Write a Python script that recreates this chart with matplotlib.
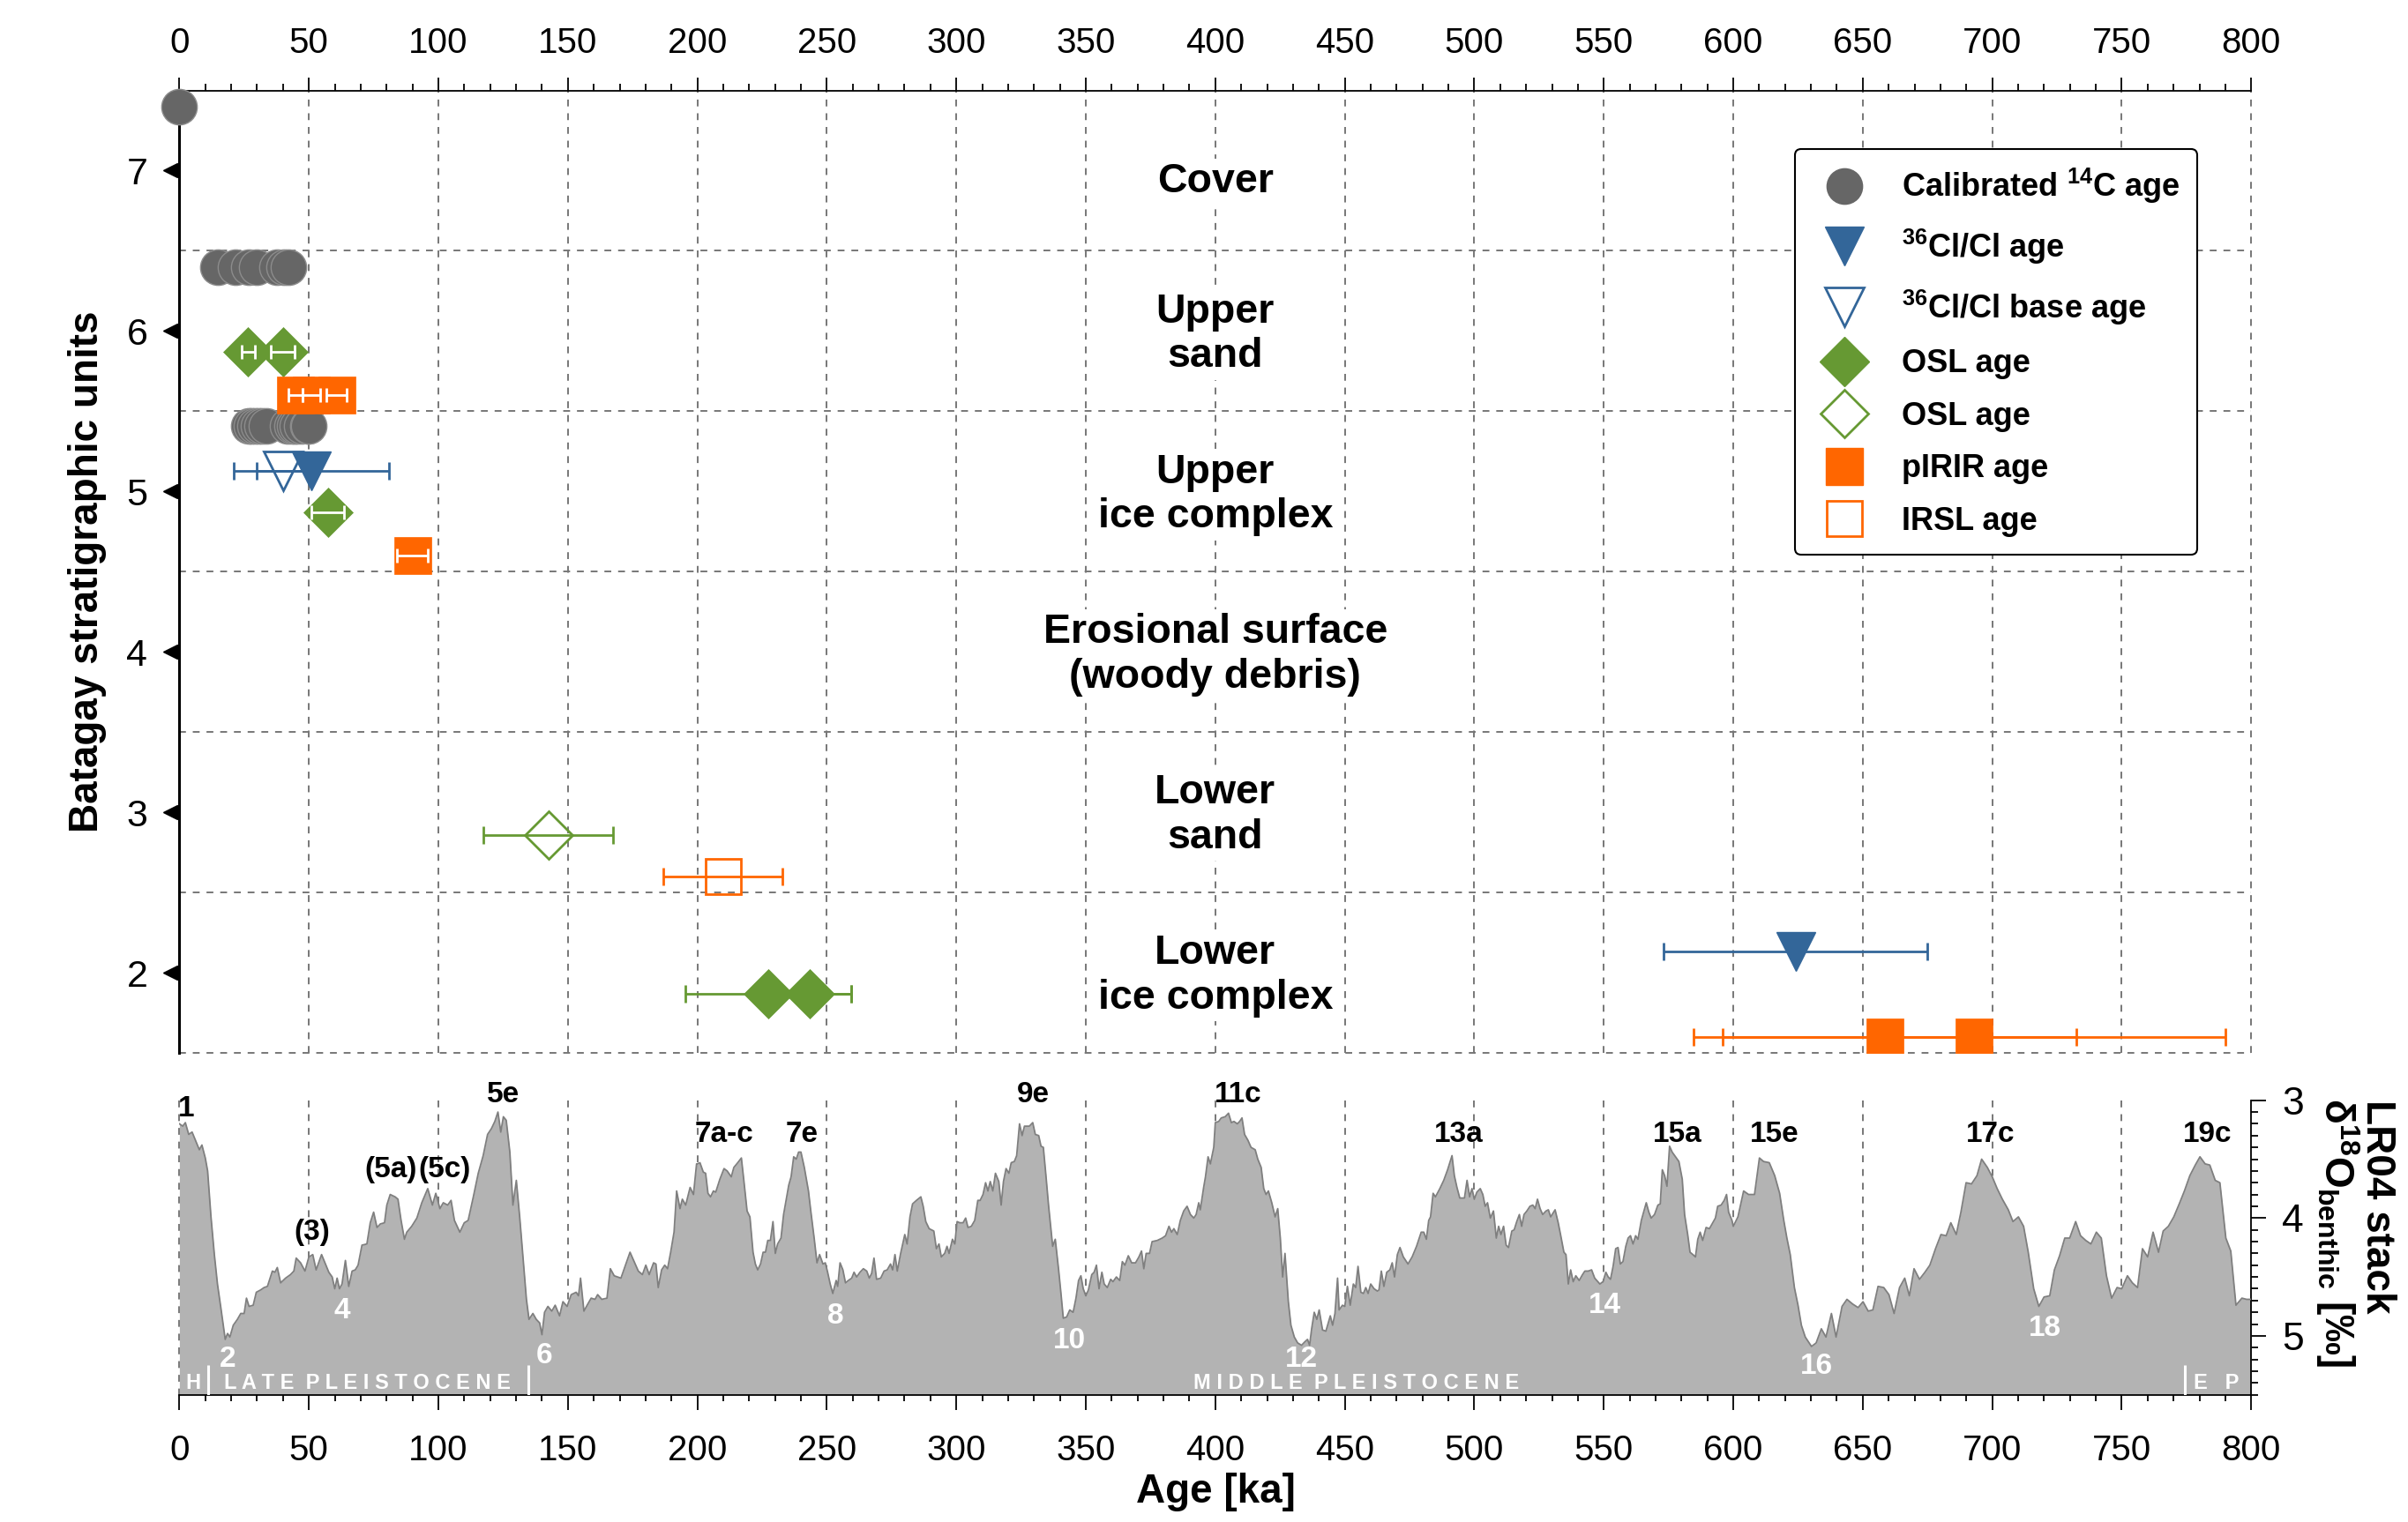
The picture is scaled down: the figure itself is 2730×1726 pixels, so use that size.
import matplotlib
matplotlib.use("Agg")
import matplotlib.pyplot as plt
from matplotlib.lines import Line2D
from matplotlib.ticker import MultipleLocator

plt.rcParams["font.family"] = ["Liberation Sans", "DejaVu Sans"]
plt.rcParams["mathtext.default"] = "regular"

GREY = "#666666"
BLUE = "#336699"
GREEN = "#669933"
ORANGE = "#ff6600"
GRID = "#777777"

# ---------------- dating results (ka) and stratigraphic position ----------------
c14_age = [0.0,
           14.9, 21.7, 26.8, 29.9, 37.6, 40.4, 42.1,
           26.8, 27.9, 29.1, 30.6, 31.9, 33.6, 41.6, 43.3, 44.4, 45.5, 47.2, 49.5, 50.0]
c14_unit = [7.40,
            6.40, 6.40, 6.40, 6.40, 6.40, 6.40, 6.40,
            5.41, 5.41, 5.41, 5.41, 5.41, 5.41, 5.41, 5.41, 5.41, 5.41, 5.41, 5.41, 5.41]

cl_age = [51.0, 624.0]
cl_err = [30.0, 51.0]
cl_unit = [5.13, 2.13]

cl_base_age = [40.0]
cl_base_err = [10.0]
cl_base_unit = [5.13]

osl_age = [26.6, 40.0, 57.3, 227.5, 243.5]
osl_err = [2.5, 4.6, 6.2, 32.0, 16.0]
osl_unit = [5.87, 5.87, 4.87, 1.87, 1.87]
osl_err_inside = [True, True, True, False, False]

osl_open_age = [142.5]
osl_open_err = [25.0]
osl_open_unit = [2.86]

pirir_age = [44.7, 50.9, 60.7, 90.0, 658.6, 692.9]
pirir_err = [2.7, 3.5, 4.0, 6.0, 74.0, 97.0]
pirir_unit = [5.60, 5.60, 5.60, 4.60, 1.60, 1.60]
pirir_err_inside = [True, True, True, True, False, False]

irsl_age = [210.0]
irsl_err = [23.0]
irsl_unit = [2.60]

unit_names = ["Cover", "Upper\nsand", "Upper\nice complex",
              "Erosional surface\n(woody debris)", "Lower\nsand", "Lower\nice complex"]
unit_label_pos = [6.93, 5.98, 4.98, 3.98, 2.98, 1.98]
unit_ticks = [2, 3, 4, 5, 6, 7]

# ---------------- LR04 benthic stack ----------------
age_0_200 = [
    0.0, 1.3, 2.3, 3.6, 4.9, 6.2, 7.7, 8.7, 10.0, 10.9,
    12.2, 13.5, 14.7, 16.0, 17.7, 18.6, 19.5, 20.8, 22.4, 23.7,
    25.0, 25.9, 26.9, 28.5, 29.7, 31.4, 32.7, 34.0, 35.9, 36.9,
    37.8, 39.1, 41.0, 42.9, 44.2, 45.1, 46.8, 48.5, 50.0, 51.5,
    52.8, 54.9, 56.4, 57.7, 59.0, 60.0, 60.9, 61.8, 62.8, 64.1,
    65.4, 66.7, 67.9, 69.0, 70.5, 72.4, 73.7, 75.0, 76.3, 77.6,
    79.2, 80.1, 81.4, 83.3, 84.4, 85.6, 86.9, 87.8, 89.7, 91.7,
    93.6, 95.9, 97.7, 99.0, 100.6, 101.9, 103.6, 104.9, 106.2, 108.3,
    110.0, 111.5, 113.5, 115.4, 117.3, 119.0, 120.5, 121.8, 123.0, 124.1,
    125.1, 126.2, 127.6, 128.8, 130.1, 131.4, 132.7, 134.0, 135.0, 136.5,
    137.8, 139.1, 140.0, 141.0, 142.3, 143.8, 145.1, 146.8, 148.1, 149.7,
    151.3, 153.2, 154.1, 154.9, 156.2, 157.7, 159.0, 160.5, 161.5, 163.1,
    165.1, 166.4, 167.9, 170.5, 172.1, 174.0, 175.6, 177.2, 178.8, 180.1,
    181.4, 183.1, 184.0, 184.9, 186.2, 187.4, 188.5, 189.7, 191.0, 192.0,
    193.3, 194.2, 195.5, 197.2, 198.5, 199.7]
d18o_0_200 = [
    3.20, 3.22, 3.19, 3.29, 3.27, 3.34, 3.42, 3.38, 3.49, 3.60,
    3.99, 4.31, 4.56, 4.76, 5.03, 4.98, 5.01, 4.91, 4.86, 4.81,
    4.81, 4.68, 4.75, 4.74, 4.63, 4.61, 4.59, 4.58, 4.45, 4.46,
    4.42, 4.55, 4.51, 4.48, 4.45, 4.34, 4.38, 4.45, 4.33, 4.31,
    4.44, 4.31, 4.39, 4.46, 4.50, 4.60, 4.51, 4.60, 4.56, 4.36,
    4.58, 4.45, 4.44, 4.40, 4.23, 4.22, 4.04, 3.95, 4.08, 4.05,
    4.04, 3.89, 3.80, 3.82, 3.84, 4.02, 4.18, 4.12, 4.07, 4.00,
    3.87, 3.75, 3.89, 3.79, 3.92, 3.87, 3.89, 3.85, 4.02, 4.12,
    4.04, 4.02, 3.82, 3.62, 3.47, 3.29, 3.24, 3.18, 3.10, 3.27,
    3.14, 3.17, 3.44, 3.89, 3.68, 3.99, 4.34, 4.69, 4.86, 4.81,
    4.86, 4.89, 4.99, 4.80, 4.75, 4.79, 4.74, 4.83, 4.71, 4.75,
    4.65, 4.63, 4.66, 4.51, 4.79, 4.73, 4.68, 4.69, 4.65, 4.69,
    4.68, 4.43, 4.49, 4.51, 4.41, 4.29, 4.37, 4.45, 4.48, 4.40,
    4.48, 4.38, 4.39, 4.59, 4.44, 4.40, 4.43, 4.29, 4.12, 3.77,
    3.92, 3.84, 3.89, 3.74, 3.80, 3.54]

age_200_400 = [
    200.0, 201.0, 202.3, 203.2, 204.1, 205.1, 206.2, 207.1, 208.7, 210.3,
    211.5, 213.1, 214.1, 215.6, 217.0, 217.9, 219.2, 220.3, 221.5, 222.4,
    223.3, 224.4, 225.4, 226.3, 227.2, 228.2, 229.2, 230.1, 231.0, 232.3,
    233.3, 235.3, 236.2, 237.2, 238.2, 239.1, 240.0, 241.3, 242.9, 243.8,
    245.1, 246.2, 247.2, 248.5, 249.4, 250.3, 251.3, 252.3, 253.6, 254.2,
    255.1, 256.2, 257.2, 258.3, 259.6, 260.5, 261.5, 262.8, 264.1, 265.4,
    266.4, 267.3, 268.2, 269.2, 270.8, 272.1, 273.3, 274.6, 275.4, 276.3,
    277.2, 278.5, 280.1, 281.0, 282.1, 283.1, 284.6, 286.3, 287.2, 288.2,
    289.5, 291.3, 292.3, 293.3, 294.2, 295.5, 296.4, 297.2, 298.5, 299.4,
    300.3, 301.3, 302.6, 303.6, 304.5, 305.8, 307.1, 308.3, 309.2, 310.3,
    311.3, 312.2, 313.1, 314.1, 315.1, 316.4, 317.3, 318.2, 319.2, 320.3,
    321.2, 322.4, 323.3, 324.4, 325.4, 326.3, 328.2, 329.5, 330.5, 331.8,
    332.7, 333.6, 334.6, 335.6, 337.2, 338.2, 339.5, 340.4, 341.3, 342.6,
    343.8, 345.1, 346.2, 347.2, 348.1, 349.0, 350.0, 351.0, 352.3, 353.2,
    354.1, 355.1, 356.2, 357.1, 358.3, 359.6, 360.5, 361.8, 363.1, 364.1,
    365.1, 366.4, 367.7, 369.2, 370.5, 371.5, 372.4, 373.3, 374.6, 375.6,
    377.6, 379.5, 380.8, 382.1, 383.1, 384.0, 385.3, 386.5, 387.8, 389.1,
    390.4, 391.7, 392.6, 393.6, 394.2, 395.5, 396.2, 397.2, 398.1, 399.4]
d18o_200_400 = [
    3.54, 3.53, 3.61, 3.62, 3.79, 3.82, 3.77, 3.78, 3.67, 3.58,
    3.60, 3.65, 3.57, 3.53, 3.49, 3.67, 3.94, 3.99, 4.29, 4.39,
    4.44, 4.39, 4.29, 4.29, 4.19, 4.19, 4.03, 4.30, 4.22, 4.17,
    3.97, 3.72, 3.65, 3.48, 3.50, 3.44, 3.44, 3.57, 3.77, 3.94,
    4.17, 4.38, 4.31, 4.39, 4.38, 4.46, 4.56, 4.64, 4.53, 4.58,
    4.38, 4.44, 4.55, 4.53, 4.51, 4.46, 4.50, 4.46, 4.43, 4.45,
    4.51, 4.47, 4.34, 4.52, 4.51, 4.45, 4.44, 4.39, 4.44, 4.31,
    4.45, 4.30, 4.14, 4.22, 3.99, 3.88, 3.85, 3.82, 3.90, 4.03,
    4.09, 4.11, 4.26, 4.22, 4.33, 4.30, 4.24, 4.30, 4.18, 4.22,
    4.03, 4.04, 4.04, 4.00, 4.08, 4.07, 4.02, 3.85, 3.85, 3.80,
    3.70, 3.77, 3.69, 3.77, 3.62, 3.69, 3.89, 3.69, 3.58, 3.62,
    3.53, 3.52, 3.47, 3.20, 3.30, 3.22, 3.22, 3.19, 3.29, 3.30,
    3.39, 3.40, 3.64, 3.89, 4.24, 4.18, 4.44, 4.64, 4.85, 4.84,
    4.78, 4.80, 4.68, 4.53, 4.49, 4.60, 4.66, 4.61, 4.48, 4.46,
    4.40, 4.60, 4.46, 4.56, 4.59, 4.52, 4.54, 4.50, 4.53, 4.37,
    4.40, 4.32, 4.38, 4.38, 4.33, 4.28, 4.43, 4.30, 4.30, 4.20,
    4.19, 4.17, 4.15, 4.07, 4.12, 4.09, 4.14, 4.02, 3.94, 3.90,
    3.97, 4.00, 3.97, 3.87, 3.93, 3.74, 3.65, 3.48, 3.54, 3.40]

age_400_600 = [
    400.0, 401.3, 402.3, 403.8, 405.1, 406.2, 407.2, 408.5, 409.4, 410.3,
    411.3, 412.6, 413.8, 415.4, 416.4, 417.7, 418.7, 419.6, 420.5, 421.8,
    423.1, 424.1, 425.1, 426.0, 426.9, 428.2, 429.2, 430.5, 431.8, 433.3,
    434.6, 435.6, 436.4, 437.2, 438.2, 439.2, 440.1, 441.4, 442.7, 443.6,
    444.4, 445.3, 446.2, 447.2, 447.8, 449.1, 450.0, 451.0, 452.1, 453.3,
    454.2, 455.1, 456.2, 457.2, 458.1, 459.0, 460.0, 461.3, 462.6, 463.2,
    464.1, 465.1, 466.2, 467.4, 468.3, 469.2, 470.3, 471.3, 472.6, 474.4,
    476.0, 477.7, 479.5, 480.5, 481.5, 482.4, 483.1, 484.1, 485.0, 486.7,
    488.2, 489.7, 491.4, 492.3, 493.3, 494.4, 496.2, 497.2, 498.2, 499.1,
    500.0, 501.0, 502.3, 503.3, 504.2, 505.1, 506.2, 507.4, 508.5, 509.4,
    510.3, 511.3, 512.3, 513.2, 514.5, 515.4, 516.4, 517.4, 518.3, 519.2,
    520.3, 521.5, 522.6, 523.5, 524.4, 525.4, 526.4, 527.7, 528.6, 529.5,
    531.2, 532.4, 533.3, 534.6, 535.4, 536.3, 537.2, 538.2, 539.2, 540.5,
    541.8, 542.7, 544.0, 545.3, 546.5, 548.5, 549.7, 550.8, 551.7, 552.6,
    553.6, 554.6, 555.5, 556.4, 557.4, 558.5, 559.4, 560.3, 561.3, 562.3,
    563.2, 564.5, 565.4, 566.4, 567.4, 568.3, 569.6, 570.9, 571.8, 572.6,
    573.5, 574.4, 575.4, 576.4, 577.7, 579.0, 580.3, 581.2, 582.4, 583.3,
    584.4, 585.4, 586.3, 587.2, 588.2, 589.5, 590.8, 592.1, 593.1, 594.0,
    595.3, 596.5, 597.4, 598.2, 599.5]
d18o_400_600 = [
    3.19, 3.18, 3.15, 3.14, 3.11, 3.19, 3.18, 3.20, 3.18, 3.15,
    3.29, 3.34, 3.40, 3.42, 3.50, 3.57, 3.75, 3.80, 3.77, 3.87,
    3.99, 3.92, 4.17, 4.50, 4.30, 4.71, 4.91, 5.01, 5.06, 5.08,
    5.05, 5.03, 5.08, 4.94, 4.80, 4.86, 4.78, 4.95, 4.96, 4.89,
    4.83, 4.91, 4.81, 4.51, 4.78, 4.74, 4.75, 4.58, 4.74, 4.56,
    4.59, 4.41, 4.63, 4.64, 4.59, 4.64, 4.56, 4.60, 4.62, 4.61,
    4.45, 4.58, 4.46, 4.44, 4.38, 4.50, 4.31, 4.25, 4.33, 4.39,
    4.33, 4.24, 4.12, 4.12, 4.18, 4.02, 3.99, 3.79, 3.82, 3.75,
    3.68, 3.59, 3.47, 3.64, 3.74, 3.83, 3.83, 3.68, 3.82, 3.75,
    3.84, 3.78, 3.75, 3.80, 3.90, 3.87, 4.00, 3.94, 4.17, 4.07,
    4.14, 4.07, 4.23, 4.25, 4.11, 4.10, 4.03, 3.97, 4.07, 3.97,
    3.94, 3.90, 3.89, 3.92, 3.84, 3.92, 3.97, 3.94, 3.93, 3.99,
    3.93, 4.04, 4.14, 4.29, 4.31, 4.56, 4.44, 4.54, 4.49, 4.53,
    4.48, 4.45, 4.45, 4.44, 4.51, 4.56, 4.54, 4.46, 4.50, 4.52,
    4.41, 4.26, 4.25, 4.39, 4.37, 4.24, 4.17, 4.15, 4.22, 4.15,
    4.18, 4.02, 3.95, 3.87, 3.95, 4.00, 3.97, 3.89, 3.88, 3.59,
    3.64, 3.73, 3.39, 3.44, 3.48, 3.52, 3.67, 3.97, 4.14, 4.29,
    4.31, 4.33, 4.18, 4.12, 4.19, 4.08, 4.09, 4.04, 4.00, 3.90,
    3.89, 3.85, 3.80, 3.95, 4.02]

age_600_800 = [
    600.0, 601.8, 604.0, 605.9, 608.2, 610.1, 611.7, 613.9, 616.0, 617.9,
    619.5, 620.7, 622.0, 623.6, 625.0, 626.3, 627.8, 630.2, 632.0, 634.0,
    635.8, 637.9, 639.7, 642.0, 643.9, 646.1, 648.2, 650.1, 652.1, 653.9,
    655.9, 658.1, 660.1, 662.1, 664.2, 666.2, 668.0, 669.8, 671.9, 674.0,
    675.9, 678.1, 680.2, 682.2, 684.0, 686.1, 687.9, 689.9, 692.0, 694.1,
    695.9, 698.1, 700.0, 701.9, 703.9, 706.2, 708.0, 710.1, 712.1, 713.9,
    716.0, 718.0, 720.0, 722.2, 724.0, 726.0, 728.0, 729.9, 732.2, 734.1,
    736.1, 738.1, 740.2, 742.1, 744.1, 746.1, 748.2, 750.0, 752.2, 754.1,
    756.1, 758.0, 760.0, 762.1, 764.2, 766.0, 768.0, 770.1, 772.2, 774.2,
    776.3, 778.4, 780.2, 782.2, 784.0, 786.1, 787.9, 790.2, 792.1, 794.1,
    796.4, 798.2, 800.0]
d18o_600_800 = [
    4.07, 3.99, 3.77, 3.80, 3.80, 3.49, 3.52, 3.53, 3.64, 3.79,
    4.02, 4.17, 4.31, 4.59, 4.74, 4.91, 5.01, 5.09, 5.06, 4.94,
    5.01, 4.81, 5.01, 4.75, 4.69, 4.73, 4.76, 4.71, 4.79, 4.78,
    4.58, 4.59, 4.65, 4.81, 4.59, 4.51, 4.66, 4.43, 4.52, 4.46,
    4.40, 4.26, 4.14, 4.15, 4.04, 4.14, 3.95, 3.70, 3.71, 3.64,
    3.50, 3.57, 3.65, 3.75, 3.84, 3.93, 4.03, 3.99, 4.07, 4.29,
    4.60, 4.75, 4.67, 4.66, 4.44, 4.32, 4.17, 4.17, 4.03, 4.15,
    4.19, 4.22, 4.12, 4.17, 4.49, 4.68, 4.59, 4.60, 4.49, 4.55,
    4.59, 4.26, 4.33, 4.12, 4.29, 4.11, 4.07, 3.99, 3.88, 3.77,
    3.64, 3.55, 3.48, 3.54, 3.55, 3.68, 3.70, 4.17, 4.28, 4.74,
    4.68, 4.69, 4.69]

lr04_age = age_0_200 + age_200_400 + age_400_600 + age_600_800
lr04_d18o = d18o_0_200 + d18o_200_400 + d18o_400_600 + d18o_600_800

# marine isotope stage labels
warm_labels = ["1", "(3)", "(5a)", "(5c)", "5e", "7a-c", "7e", "9e", "11c",
               "13a", "15a", "15e", "17c", "19c"]
warm_age = [2.6, 51.3, 81.5, 102.5, 125.0, 210.5, 240.2, 329.8, 408.7,
            494.0, 578.5, 615.8, 699.2, 783.0]
warm_d18o = [3.07, 4.12, 3.59, 3.59, 2.95, 3.29, 3.29, 2.95, 2.95,
             3.29, 3.29, 3.29, 3.29, 3.29]

cold_labels = ["2", "4", "6", "8", "10", "12", "14", "16", "18"]
cold_age = [18.6, 62.8, 140.8, 253.2, 343.6, 433.3, 550.4, 632.3, 720.4]
cold_d18o = [5.20, 4.79, 5.17, 4.83, 5.04, 5.20, 4.74, 5.26, 4.94]

epoch_labels = ["H", "L A T E  P L E I S T O C E N E",
                "M I D D L E  P L E I S T O C E N E", "E   P"]
epoch_age = [5.3, 72.4, 454.3, 786.6]
epoch_bounds = [11.2, 134.6, 774.3]


def draw_errors(ax, x, y, err, inside, color):
    for xi, yi, ei, inner in zip(x, y, err, inside):
        if inner:
            ax.errorbar(xi, yi, xerr=ei, fmt="none", ecolor="white",
                        elinewidth=2.0, capsize=5.5, capthick=2.0, zorder=7)
        else:
            ax.errorbar(xi, yi, xerr=ei, fmt="none", ecolor=color,
                        elinewidth=2.0, capsize=7, capthick=2.0, zorder=3)


fig = plt.figure(figsize=(27.3, 17.26), dpi=100)
ax = fig.add_axes([0.0745, 0.3082, 0.8604, 0.6324])
ax2 = fig.add_axes([0.0745, 0.0836, 0.8604, 0.1935])

# ---------------- upper panel ----------------
ax.set_xlim(0, 800)
ax.set_ylim(1.5, 7.5)
for side in ("right", "bottom"):
    ax.spines[side].set_visible(False)
ax.spines["left"].set_linewidth(2.2)
ax.spines["top"].set_linewidth(1.3)
ax.xaxis.tick_top()
ax.xaxis.set_major_locator(MultipleLocator(50))
ax.xaxis.set_minor_locator(MultipleLocator(10))
ax.tick_params(axis="x", which="major", direction="out", length=11, width=1.3,
               labelsize=29, pad=14)
ax.tick_params(axis="x", which="minor", direction="out", length=6, width=1.3)
ax.set_yticks(unit_ticks)
ax.tick_params(axis="y", length=0, labelsize=31, pad=26)
ax.plot([-0.0043] * len(unit_ticks), unit_ticks, transform=ax.get_yaxis_transform(),
        ls="none", marker="<", ms=12, color="black", clip_on=False, zorder=8)

ax.vlines(range(50, 801, 50), 1.5, 7.5, colors=GRID, linestyles=(0, (4, 4)),
          linewidth=1.4, zorder=1, clip_on=False)
ax.hlines([1.5, 2.5, 3.5, 4.5, 5.5, 6.5], 0, 800, colors=GRID,
          linestyles=(0, (4, 4)), linewidth=1.4, zorder=1, clip_on=False)

for name, ypos in zip(unit_names, unit_label_pos):
    ax.text(400, ypos, name, ha="center", va="center", fontsize=33.5,
            fontweight="bold", linespacing=1.2, zorder=2,
            bbox=dict(facecolor="white", edgecolor="none", pad=3))

draw_errors(ax, cl_age, cl_unit, cl_err, [False, False], BLUE)
draw_errors(ax, cl_base_age, cl_base_unit, cl_base_err, [False], BLUE)
draw_errors(ax, osl_age, osl_unit, osl_err, osl_err_inside, GREEN)
draw_errors(ax, osl_open_age, osl_open_unit, osl_open_err, [False], GREEN)
draw_errors(ax, pirir_age, pirir_unit, pirir_err, pirir_err_inside, ORANGE)
draw_errors(ax, irsl_age, irsl_unit, irsl_err, [False], ORANGE)

ax.plot(c14_age, c14_unit, ls="none", marker="o", ms=29, mfc=GREY, mec="#8c8c8c",
        mew=1.0, clip_on=False, zorder=5)
ax.plot(cl_base_age, cl_base_unit, ls="none", marker="v", ms=32, mfc="none",
        mec=BLUE, mew=2.0, zorder=5)
ax.plot(cl_age, cl_unit, ls="none", marker="v", ms=32, mfc=BLUE, mec=BLUE, zorder=5)
ax.plot(osl_age, osl_unit, ls="none", marker="D", ms=29, mfc=GREEN, mec=GREEN,
        mew=0.5, zorder=5)
ax.plot(osl_open_age, osl_open_unit, ls="none", marker="D", ms=28, mfc="none",
        mec=GREEN, mew=2.0, zorder=5)
ax.plot(pirir_age, pirir_unit, ls="none", marker="s", ms=30, mfc=ORANGE, mec=ORANGE,
        mew=0.5, zorder=5)
ax.plot(irsl_age, irsl_unit, ls="none", marker="s", ms=29, mfc="none", mec=ORANGE,
        mew=2.0, zorder=5)

handles = [
    Line2D([], [], ls="none", marker="o", ms=29, mfc=GREY, mec=GREY),
    Line2D([], [], ls="none", marker="v", ms=32, mfc=BLUE, mec=BLUE),
    Line2D([], [], ls="none", marker="v", ms=32, mfc="none", mec=BLUE, mew=2.0),
    Line2D([], [], ls="none", marker="D", ms=29, mfc=GREEN, mec=GREEN),
    Line2D([], [], ls="none", marker="D", ms=28, mfc="none", mec=GREEN, mew=2.0),
    Line2D([], [], ls="none", marker="s", ms=30, mfc=ORANGE, mec=ORANGE),
    Line2D([], [], ls="none", marker="s", ms=29, mfc="none", mec=ORANGE, mew=2.0),
]
labels = ["Calibrated $^{14}$C age", "$^{36}$Cl/Cl age", "$^{36}$Cl/Cl base age",
          "OSL age", "OSL age", "pIRIR age", "IRSL age"]
leg = fig.legend(handles, labels, loc="upper right", bbox_to_anchor=(0.9125, 0.902),
                 prop={"weight": "bold", "size": 26}, frameon=True, fancybox=True,
                 framealpha=1, edgecolor="black", labelspacing=0.68, borderpad=0.55,
                 borderaxespad=0)
leg.get_frame().set_linewidth(1.5)

# ---------------- lower panel: LR04 ----------------
ax2.set_xlim(0, 800)
ax2.set_ylim(5.5, 3.0)
ax2.patch.set_visible(False)
ax2.vlines(range(0, 800, 50), 3.0, 5.5, colors=GRID, linestyles=(0, (4, 4)),
           linewidth=1.4, zorder=1, clip_on=False)
ax2.fill_between(lr04_age, lr04_d18o, 5.5, color="#b3b3b3", lw=0, zorder=2)
ax2.plot(lr04_age, lr04_d18o, color="#7f7f7f", lw=1.3, zorder=3)

for side in ("top", "left"):
    ax2.spines[side].set_visible(False)
ax2.spines["right"].set_linewidth(1.3)
ax2.spines["bottom"].set_linewidth(1.3)
ax2.yaxis.tick_right()
ax2.set_yticks([3, 4, 5])
ax2.yaxis.set_minor_locator(MultipleLocator(0.1))
ax2.xaxis.set_major_locator(MultipleLocator(50))
ax2.xaxis.set_minor_locator(MultipleLocator(10))
ax2.tick_params(axis="x", which="major", direction="out", length=12, width=1.3,
                labelsize=29, pad=20)
ax2.tick_params(axis="x", which="minor", direction="out", length=5, width=1.3)
ax2.tick_params(axis="y", which="major", direction="out", length=12, width=1.3,
                labelsize=32, pad=13)
ax2.tick_params(axis="y", which="minor", direction="out", length=5.5, width=1.3)

for lab, xa, yd in zip(warm_labels, warm_age, warm_d18o):
    ax2.text(xa, yd, lab, ha="center", va="center", fontsize=24,
             fontweight="bold", color="black", zorder=6)
for lab, xa, yd in zip(cold_labels, cold_age, cold_d18o):
    ax2.text(xa, yd, lab, ha="center", va="center", fontsize=24,
             fontweight="bold", color="white", zorder=6)
for lab, xa in zip(epoch_labels, epoch_age):
    ax2.text(xa, 5.40, lab, ha="center", va="center", fontsize=17,
             fontweight="bold", color="white", zorder=6)
ax2.vlines(epoch_bounds, 5.25, 5.5, colors="white", linewidth=2.2, zorder=6)

# ---------------- axis titles ----------------
fig.text(0.0363, 0.6246, "Batagay stratigraphic units", rotation=90, ha="center",
         va="center", fontsize=33, fontweight="bold")
fig.text(0.505, 0.0197, "Age [ka]", ha="center", va="center", fontsize=33,
         fontweight="bold")
fig.text(0.9872, 0.2073, "LR04 stack", rotation=270, ha="center", va="center",
         fontsize=33, fontweight="bold")
fig.text(0.9707, 0.190, "δ$^{18}$O$_{benthic}$ [‰]", rotation=270, ha="center",
         va="center", fontsize=33, fontweight="bold")

fig.savefig("out.png", dpi=100)
